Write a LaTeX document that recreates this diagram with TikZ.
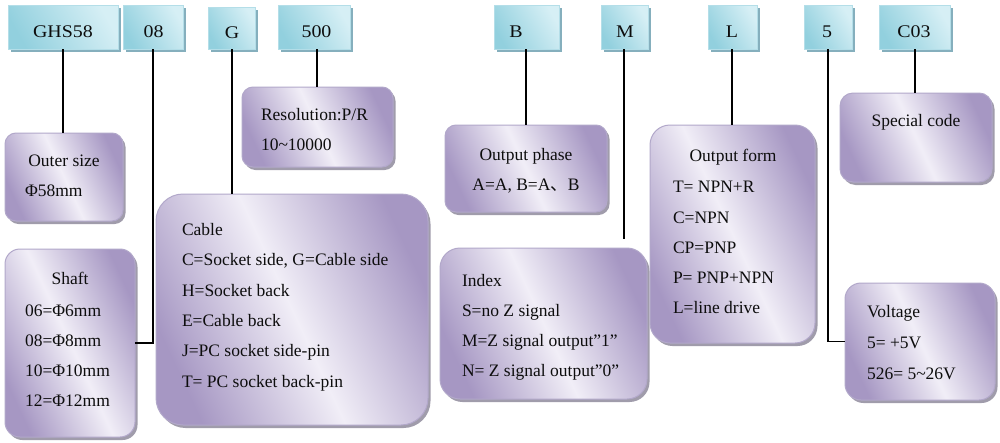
\documentclass[tikz,border=0pt]{standalone}
\usepackage{fontspec}
\setmainfont{Liberation Serif}
\newfontfamily\cjk{Noto Sans CJK SC}
\newfontfamily\topfont[FakeStretch=1.12]{Liberation Serif}
\usetikzlibrary{shadows}
\definecolor{pdark}{RGB}{166,151,195}
\definecolor{plight}{RGB}{241,238,247}
\definecolor{pedge}{RGB}{178,168,202}
\definecolor{pshadow}{RGB}{150,146,162}
\definecolor{bdark}{RGB}{146,208,222}
\definecolor{blight}{RGB}{214,239,245}
\definecolor{bedge}{RGB}{180,222,232}
\definecolor{bshadow}{RGB}{112,162,178}
\tikzset{
  every node/.style={inner sep=0pt, outer sep=0pt},
  txt/.style={font=\fontsize{17.5}{21}\selectfont, text=black!95, anchor=base west},
  ctxt/.style={font=\fontsize{17.5}{21}\selectfont, text=black!95, anchor=base},
  ttxt/.style={font=\topfont\fontsize{17.8}{21}\selectfont, text=black!95, anchor=base},
  pbox/.style={rectangle, draw=pedge, line width=1pt, anchor=north west,
    left color=pdark, right color=pdark, middle color=plight, shading angle=115,
    drop shadow={shadow xshift=2.5pt, shadow yshift=-3pt, fill=pshadow, opacity=0.9}},
  bbox/.style={rectangle, draw=bedge, line width=0.8pt, anchor=north west,
    left color=bdark, right color=blight, shading angle=120,
    drop shadow={shadow xshift=3pt, shadow yshift=-3pt, fill=bshadow, opacity=0.85}},
  conn/.style={draw=black, line width=1.2pt}
}
\newcommand{\pbx}[6]{\node[pbox, rounded corners=#6, minimum width={#4-#2}, minimum height={#5-#3}] (#1) at (#2,#3) {};}
\newcommand{\bbx}[5]{\node[bbox, minimum width={#4-#2}, minimum height={#5-#3}] (#1) at (#2,#3) {};}
\begin{document}
\begin{tikzpicture}[x=1pt,y=-1pt]
\useasboundingbox[fill=white] (0,0) rectangle (1000,442);
% top code boxes
\bbx{ghs}{8}{5}{118}{49}
\bbx{b08}{123}{5}{183}{49}
\bbx{g}{208}{7}{255}{49}
\bbx{p500}{278}{5}{350}{49}
\bbx{b}{494}{5}{559}{49}
\bbx{m}{601}{5}{648}{49}
\bbx{l}{708}{5}{757}{49}
\bbx{v5}{804}{5}{852}{49}
\bbx{c03}{879}{5}{950}{49}
\node[ttxt] (tghs) at (63,37) {GHS58};
\node[ttxt] (tb08) at (153.5,37) {08};
\node[ttxt] (tg) at (232,38) {G};
\node[ttxt] (tp500) at (316.5,37) {500};
\node[ttxt] (tb) at (516,37) {B};
\node[ttxt] (tm) at (625,37) {M};
\node[ttxt] (tl) at (732,37) {L};
\node[ttxt] (tv5) at (827,37) {5};
\node[ttxt] (tc03) at (914,37) {C03};
% description boxes
\pbx{outer}{5}{133}{123}{221}{11}
\pbx{res}{242}{87}{393}{167}{11}
\pbx{shaft}{5}{249}{135}{437}{15}
\pbx{cable}{156}{194}{428}{425}{27}
\pbx{phase}{445}{125}{607}{212}{11}
\pbx{index}{440}{248}{647}{399}{20}
\pbx{form}{650}{125}{815}{343}{20}
\pbx{special}{840}{93}{992}{182}{13}
\pbx{volt}{845}{283}{995}{400}{16}
% texts
\node[ctxt] (o1) at (64,166.5) {Outer size};
\node[txt] (o2) at (25,196.5) {Φ58mm};
\node[txt] (r1) at (261,120.7) {Resolution:P/R};
\node[txt] (r2) at (261,150.7) {10\textasciitilde10000};
\node[ctxt] (s1) at (70,284) {Shaft};
\node[txt] (s2) at (25,316) {06=Φ6mm};
\node[txt] (s3) at (25,346.5) {08=Φ8mm};
\node[txt] (s4) at (25,376.5) {10=Φ10mm};
\node[txt] (s5) at (25,406.5) {12=Φ12mm};
\node[txt] (c1) at (182,235) {Cable};
\node[txt] (c2) at (182,265.5) {C=Socket side, G=Cable side};
\node[txt] (c3) at (182,296) {H=Socket back};
\node[txt] (c4) at (182,326.5) {E=Cable back};
\node[txt] (c5) at (182,356.5) {J=PC socket side-pin};
\node[txt] (c6) at (182,387.5) {T= PC socket back-pin};
\node[ctxt] (ph1) at (526,160) {Output phase};
\node[ctxt] (ph2) at (526,190.5) {A=A, B=A{\cjk 、}B};
\node[txt] (i1) at (462,286) {Index};
\node[txt] (i2) at (462,316) {S=no Z signal};
\node[txt] (i3) at (462,346.5) {M=Z signal output”1”};
\node[txt] (i4) at (462,376.5) {N= Z signal output”0”};
\node[ctxt] (f1) at (733,161.5) {Output form};
\node[txt] (f2) at (673,192.5) {T= NPN+R};
\node[txt] (f3) at (673,223) {C=NPN};
\node[txt] (f4) at (673,253.5) {CP=PNP};
\node[txt] (f5) at (673,283.3) {P= PNP+NPN};
\node[txt] (f6) at (673,313.5) {L=line drive};
\node[ctxt] (sp1) at (916,126.5) {Special code};
\node[txt] (v1) at (867,317.3) {Voltage};
\node[txt] (v2) at (867,348.3) {5= +5V};
\node[txt] (v3) at (867,379.3) {526= 5\textasciitilde26V};
% connectors
\coordinate (mend) at (624,239);
\draw[conn] (ghs.south) -- (ghs.south |- outer.north);
\draw[conn] (b08.south) |- (shaft.east);
\draw[conn] ([xshift=0.5]g.south) -- ([xshift=0.5]g.south |- cable.north);
\draw[conn] ([xshift=3]p500.south) -- ([xshift=3]p500.south |- res.north);
\draw[conn] ([xshift=-0.5]b.south) -- ([xshift=-0.5]b.south |- phase.north);
\draw[conn] ([xshift=-0.5]m.south) -- ([xshift=-0.5]m.south |- mend);
\draw[conn] ([xshift=-0.5]l.south) -- ([xshift=-0.5]l.south |- form.north);
\draw[conn] (v5.south) |- (volt.west);
\draw[conn] ([xshift=0.5]c03.south) -- ([xshift=0.5]c03.south |- special.north);
\end{tikzpicture}
\end{document}
